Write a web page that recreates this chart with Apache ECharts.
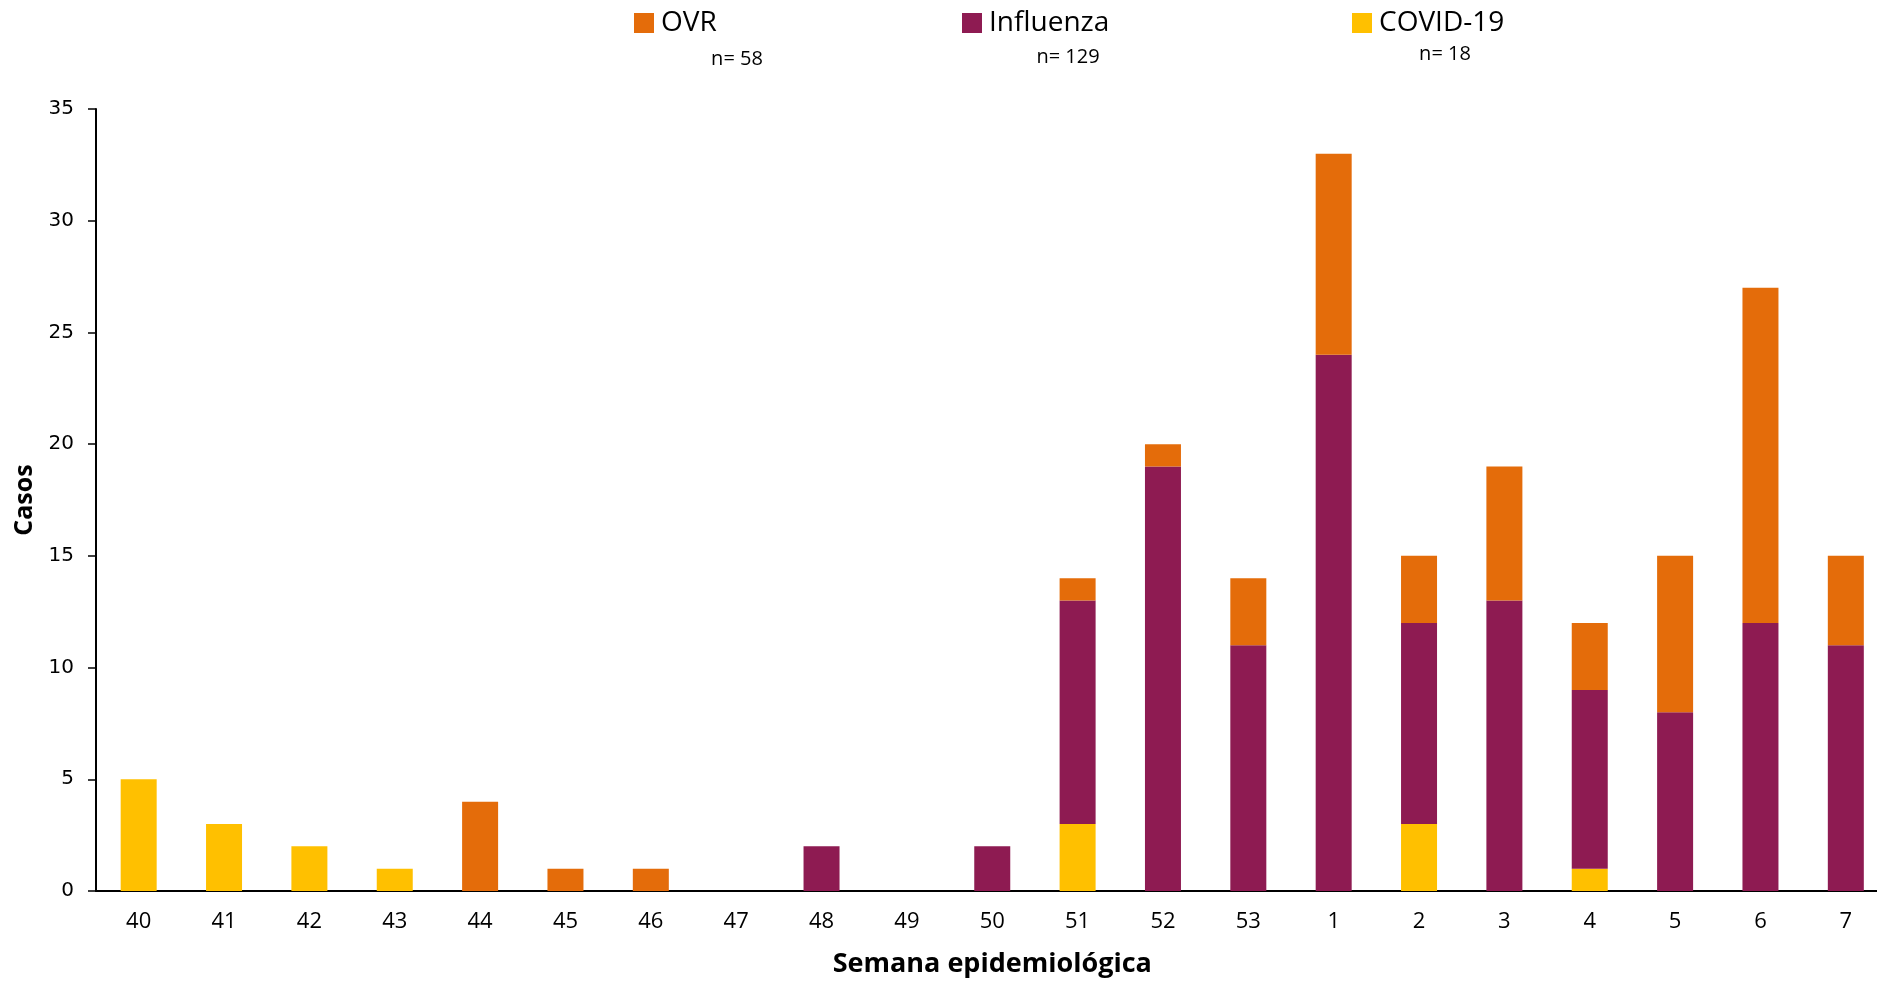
<!DOCTYPE html>
<html>
<head>
<meta charset="utf-8">
<script src="https://cdn.jsdelivr.net/npm/echarts@6/dist/echarts.min.js"></script>
<style>
html,body{margin:0;padding:0;background:#fff;overflow:hidden;}
#chart{width:1877px;height:982px;}
</style>
</head>
<body>
<div id="chart"></div>
<script>
const weeks = ['40','41','42','43','44','45','46','47','48','49','50','51','52','53','1','2','3','4','5','6','7'];
const covid     = [5,3,2,1,0,0,0,0,0,0,0,3,0,0,0,3,0,1,0,0,0];
const influenza = [0,0,0,0,0,0,0,0,2,0,2,10,19,11,24,9,13,8,8,12,11];
const ovr       = [0,0,0,0,4,1,1,0,0,0,0,1,1,3,9,3,6,3,7,15,4];
const yTicks = [0,5,10,15,20,25,30,35];
const seriesNames = ['OVR','Influenza','COVID-19'];
const totals = ['n= 58','n= 129','n= 18'];

const colors = {OVR:'#E46C0A', Influenza:'#8E1B52', 'COVID-19':'#FFC000'};
const font = '"Open Sans", sans-serif';

const chart = echarts.init(document.getElementById('chart'), null, {renderer:'canvas'});

function legendAt(name, left){
  return {
    data:[name], left:left, top:9, orient:'horizontal',
    itemWidth:20, itemHeight:20, itemGap:0, icon:'rect',
    padding:0,
    textStyle:{fontFamily:font, fontSize:28, color:'#000', padding:[0,0,0,2]},
    selectedMode:false
  };
}

const nPos = [[737,59],[1068,57],[1445,54]];

chart.setOption({
  animation:false,
  backgroundColor:'#fff',
  grid:{left:96, right:-11.5, top:109, bottom:91, containLabel:false, outerBoundsMode:'none'},
  legend:[legendAt(seriesNames[0],634), legendAt(seriesNames[1],962), legendAt(seriesNames[2],1352)],
  graphic: totals.map((t,i)=>({
    type:'text', silent:true, x:nPos[i][0], y:nPos[i][1],
    style:{text:t, fontFamily:font, fontSize:20, fill:'#000', textAlign:'center', textVerticalAlign:'middle'}
  })),
  xAxis:{
    type:'category', data:weeks, boundaryGap:true,
    axisLine:{lineStyle:{color:'#000', width:2}},
    axisTick:{alignWithLabel:true, length:6, lineStyle:{color:'#000', width:1.5}},
    axisLabel:{fontFamily:font, fontSize:22, color:'#000', margin:20},
    name:'Semana epidemiológica', nameLocation:'middle', nameGap:60,
    nameTextStyle:{fontFamily:font, fontSize:27, fontWeight:'bold', color:'#000'}
  },
  yAxis:{
    type:'value', min:yTicks[0], max:yTicks[yTicks.length-1], interval:5,
    splitLine:{show:false},
    axisLine:{show:true, lineStyle:{color:'#000', width:2}},
    axisTick:{show:true, length:8, lineStyle:{color:'#000', width:1.5}},
    axisLabel:{fontFamily:'"DejaVu Sans", sans-serif', fontSize:20, color:'#000', margin:22},
    name:'Casos', nameLocation:'middle', nameGap:58, nameRotate:90,
    nameTextStyle:{fontFamily:font, fontSize:25, fontWeight:'bold', color:'#000'}
  },
  series:[
    {name:'COVID-19', type:'bar', stack:'s', data:covid, barWidth:36, itemStyle:{color:colors['COVID-19']}},
    {name:'Influenza', type:'bar', stack:'s', data:influenza, barWidth:36, itemStyle:{color:colors['Influenza']}},
    {name:'OVR', type:'bar', stack:'s', data:ovr, barWidth:36, itemStyle:{color:colors['OVR']}}
  ]
});
</script>
</body>
</html>
